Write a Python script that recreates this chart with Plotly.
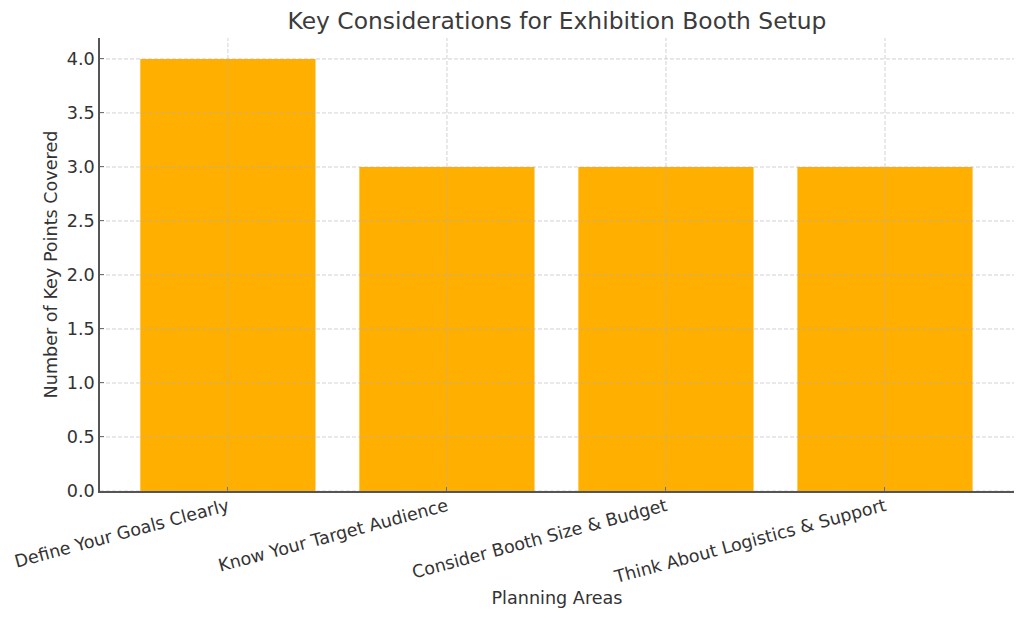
import plotly.graph_objects as go

categories = ["Define Your Goals Clearly", "Know Your Target Audience", "Consider Booth Size & Budget", "Think About Logistics & Support"]
values = [4, 3, 3, 3]
y_ticks = [0, 0.5, 1, 1.5, 2, 2.5, 3, 3.5, 4]
y_labels = ["0.0", "0.5", "1.0", "1.5", "2.0", "2.5", "3.0", "3.5", "4.0"]
x_ticks = list(range(len(categories)))

OFF = 8  # page margin
L, R, T, B = 100 - OFF, 1014 - OFF, 38 - OFF, 491 - OFF
W, H = 1024, 619
FONT = "DejaVu Sans"
TXT = "#333333"
AXC = "#555555"
GRID = dict(color="rgba(176,176,176,0.72)", width=0.8, dash="4px,2px")

fig = go.Figure(go.Bar(x=x_ticks, y=values, width=0.8, marker=dict(color="#FFAF00", line_width=0)))

for v in x_ticks:
    fig.add_shape(type="line", xref="x", yref="paper", x0=v, x1=v, y0=0, y1=1, line=GRID, layer="above")
for v in y_ticks:
    fig.add_shape(type="line", xref="paper", yref="y", x0=0, x1=1, y0=v, y1=v, line=GRID, layer="above")

fig.update_layout(
    width=W, height=H, autosize=False,
    margin=dict(l=L, r=W - R, t=T, b=H - B, autoexpand=False),
    paper_bgcolor="white", plot_bgcolor="white",
    font=dict(family=FONT, color=TXT),
    showlegend=False,
    title=dict(text="Key Considerations for Exhibition Booth Setup", font=dict(size=23.4, color="#3b3b3b", family=FONT),
               x=(L + R) / 2 / W, xanchor="center", y=1 - 13 / H, yanchor="middle"),
    xaxis=dict(
        range=[-0.584, 3.589], tickmode="array", tickvals=x_ticks, automargin=False,
        ticktext=categories, tickangle=-15, tickfont=dict(size=17.5, color=TXT),
        showgrid=False, ticklabelstandoff=-3,
        ticks="inside", ticklen=4, tickcolor=AXC, tickwidth=1,
        showline=True, linecolor=AXC, linewidth=1.5, zeroline=False, layer="above traces",
        title=dict(text="Planning Areas", font=dict(size=17.6, color=TXT), standoff=6),
    ),
    yaxis=dict(
        range=[0, 4.194], tickmode="array", tickvals=y_ticks, ticktext=y_labels, automargin=False,
        tickfont=dict(size=17.6, color=TXT),
        showgrid=False,
        ticks="inside", ticklen=4, tickcolor=AXC, tickwidth=1,
        showline=True, linecolor=AXC, linewidth=1.5, zeroline=False, layer="above traces",
        title=dict(text="Number of Key Points Covered", font=dict(size=17.6, color=TXT), standoff=5),
    ),
)
fig.write_html("out.html")
